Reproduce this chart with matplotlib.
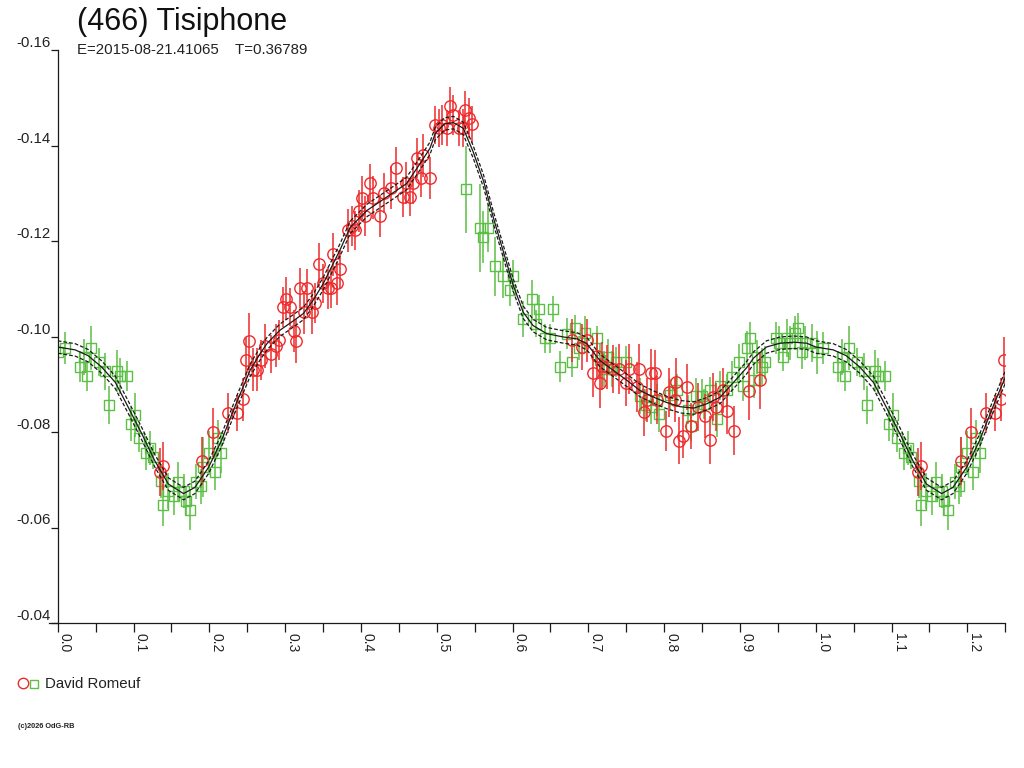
#!/usr/bin/env python3
"""
Courbe de lumiere repliee de (466) Tisiphone, refaite avec matplotlib.
Sortie: out.png (1024x768)
"""

import matplotlib
matplotlib.use("Agg")
import matplotlib.pyplot as plt
from matplotlib.lines import Line2D
from matplotlib.ticker import FormatStrFormatter, MultipleLocator

plt.rcParams["font.family"] = ["Liberation Sans", "DejaVu Sans"]
plt.rcParams["axes.unicode_minus"] = False

# Session 1 (cercles rouges)
red_phase = [
    0.135, 0.139, 0.191, 0.205, 0.224, 0.237, 0.244, 0.248, 0.253, 0.258,
    0.263, 0.268, 0.274, 0.282, 0.288, 0.292, 0.297, 0.301, 0.306, 0.312,
    0.315, 0.320, 0.329, 0.325, 0.336, 0.339, 0.345, 0.350, 0.356, 0.360,
    0.363, 0.368, 0.373, 0.383, 0.388, 0.392, 0.398, 0.402, 0.406, 0.412,
    0.416, 0.425, 0.431, 0.440, 0.446, 0.455, 0.460, 0.465, 0.469, 0.474,
    0.482, 0.479, 0.491, 0.498, 0.507, 0.513, 0.503, 0.518, 0.522, 0.529,
    0.537, 0.542, 0.546, 0.534, 0.679, 0.691, 0.698, 0.706, 0.715, 0.711,
    0.718, 0.724, 0.733, 0.741, 0.750, 0.753, 0.767, 0.782, 0.788, 0.764,
    0.773, 0.778, 0.790, 0.807, 0.816, 0.830, 0.803, 0.820, 0.825, 0.836,
    0.844, 0.854, 0.860, 0.869, 0.883, 0.892, 0.912, 0.926, 0.814, 0.865,
    0.878,
]
red_mag = [
    -0.0717, -0.0729, -0.0740, -0.0799, -0.0840, -0.0840, -0.0869, -0.0950, -0.0990, -0.0930,
    -0.0930, -0.0951, -0.0981, -0.0964, -0.0981, -0.0992, -0.1061, -0.1079, -0.1061, -0.1011,
    -0.0990, -0.1102, -0.1102, -0.1051, -0.1051, -0.1071, -0.1151, -0.1111, -0.1102, -0.1102,
    -0.1172, -0.1111, -0.1141, -0.1222, -0.1231, -0.1222, -0.1262, -0.1291, -0.1252, -0.1322,
    -0.1291, -0.1252, -0.1301, -0.1312, -0.1352, -0.1292, -0.1322, -0.1292, -0.1322, -0.1373,
    -0.1380, -0.1332, -0.1332, -0.1443, -0.1443, -0.1436, -0.1436, -0.1483, -0.1464, -0.1436,
    -0.1474, -0.1457, -0.1444, -0.1436, -0.0992, -0.0978, -0.0992, -0.0923, -0.0902, -0.0960,
    -0.0939, -0.0936, -0.0932, -0.0932, -0.0902, -0.0932, -0.0932, -0.0923, -0.0923, -0.0894,
    -0.0841, -0.0867, -0.0867, -0.0883, -0.0904, -0.0894, -0.0803, -0.0782, -0.0792, -0.0813,
    -0.0852, -0.0834, -0.0783, -0.0852, -0.0843, -0.0803, -0.0885, -0.0908, -0.0867, -0.0873,
    -0.0887,
]
red_err = [
    0.0050, 0.0050, 0.0050, 0.0052, 0.0042, 0.0037, 0.0045, 0.0050, 0.0060, 0.0045,
    0.0045, 0.0042, 0.0046, 0.0040, 0.0045, 0.0042, 0.0042, 0.0045, 0.0040, 0.0044,
    0.0046, 0.0042, 0.0040, 0.0045, 0.0046, 0.0042, 0.0045, 0.0040, 0.0044, 0.0042,
    0.0045, 0.0044, 0.0040, 0.0045, 0.0042, 0.0040, 0.0044, 0.0046, 0.0042, 0.0040,
    0.0045, 0.0044, 0.0042, 0.0046, 0.0045, 0.0042, 0.0044, 0.0040, 0.0045, 0.0042,
    0.0045, 0.0040, 0.0044, 0.0040, 0.0042, 0.0038, 0.0040, 0.0040, 0.0042, 0.0038,
    0.0040, 0.0042, 0.0038, 0.0040, 0.0045, 0.0048, 0.0045, 0.0050, 0.0052, 0.0048,
    0.0050, 0.0046, 0.0050, 0.0052, 0.0048, 0.0053, 0.0053, 0.0050, 0.0048, 0.0052,
    0.0050, 0.0046, 0.0050, 0.0052, 0.0050, 0.0048, 0.0042, 0.0049, 0.0046, 0.0048,
    0.0050, 0.0046, 0.0050, 0.0050, 0.0048, 0.0052, 0.0060, 0.0060, 0.0046, 0.0050,
    0.0048,
]

# Session 2 (carres verts)
green_phase = [
    0.001, 0.010, 0.029, 0.035, 0.039, 0.044, 0.054, 0.063, 0.068, 0.078,
    0.082, 0.091, 0.097, 0.102, 0.107, 0.116, 0.122, 0.126, 0.136, 0.139,
    0.146, 0.153, 0.159, 0.166, 0.169, 0.175, 0.183, 0.189, 0.192, 0.199,
    0.208, 0.212, 0.216, 0.538, 0.557, 0.561, 0.567, 0.577, 0.587, 0.600,
    0.596, 0.614, 0.625, 0.635, 0.654, 0.631, 0.643, 0.650, 0.663, 0.672,
    0.682, 0.678, 0.688, 0.696, 0.711, 0.716, 0.720, 0.726, 0.731, 0.737,
    0.750, 0.768, 0.776, 0.782, 0.790, 0.793, 0.808, 0.817, 0.832, 0.836,
    0.842, 0.850, 0.852, 0.861, 0.870, 0.874, 0.883, 0.889, 0.899, 0.904,
    0.909, 0.913, 0.918, 0.922, 0.929, 0.933, 0.948, 0.952, 0.957, 0.962,
    0.966, 0.972, 0.976, 0.982, 0.986, 0.995,
]
green_mag = [
    -0.0967, -0.0976, -0.0937, -0.0957, -0.0917, -0.0976, -0.0946, -0.0927, -0.0857, -0.0927,
    -0.0917, -0.0917, -0.0817, -0.0836, -0.0787, -0.0756, -0.0767, -0.0747, -0.0698, -0.0647,
    -0.0677, -0.0666, -0.0696, -0.0677, -0.0656, -0.0636, -0.0696, -0.0686, -0.0726, -0.0756,
    -0.0717, -0.0787, -0.0757, -0.1308, -0.1227, -0.1208, -0.1227, -0.1147, -0.1127, -0.1127,
    -0.1098, -0.1037, -0.1078, -0.1058, -0.1058, -0.1027, -0.0996, -0.0996, -0.0937, -0.1006,
    -0.1018, -0.0946, -0.0976, -0.1007, -0.0997, -0.0950, -0.0932, -0.0957, -0.0932, -0.0946,
    -0.0946, -0.0876, -0.0857, -0.0853, -0.0867, -0.0838, -0.0878, -0.0887, -0.0847, -0.0813,
    -0.0876, -0.0876, -0.0859, -0.0887, -0.0827, -0.0897, -0.0887, -0.0916, -0.0946, -0.0896,
    -0.0976, -0.0997, -0.0908, -0.0957, -0.0936, -0.0946, -0.0997, -0.0986, -0.0957, -0.0997,
    -0.0986, -0.1007, -0.1018, -0.0967, -0.0986, -0.0986,
]
green_err = [
    0.0045, 0.0033, 0.0033, 0.0038, 0.0031, 0.0046, 0.0029, 0.0038, 0.0040, 0.0044,
    0.0038, 0.0031, 0.0036, 0.0046, 0.0029, 0.0036, 0.0036, 0.0025, 0.0036, 0.0044,
    0.0038, 0.0040, 0.0042, 0.0036, 0.0031, 0.0042, 0.0036, 0.0036, 0.0063, 0.0046,
    0.0038, 0.0038, 0.0042, 0.0091, 0.0092, 0.0055, 0.0051, 0.0062, 0.0047, 0.0033,
    0.0035, 0.0037, 0.0041, 0.0029, 0.0027, 0.0028, 0.0030, 0.0030, 0.0033, 0.0033,
    0.0026, 0.0030, 0.0026, 0.0035, 0.0026, 0.0037, 0.0038, 0.0037, 0.0038, 0.0031,
    0.0035, 0.0038, 0.0033, 0.0037, 0.0033, 0.0038, 0.0033, 0.0035, 0.0031, 0.0031,
    0.0038, 0.0035, 0.0031, 0.0028, 0.0038, 0.0030, 0.0035, 0.0033, 0.0038, 0.0031,
    0.0035, 0.0033, 0.0037, 0.0035, 0.0040, 0.0035, 0.0033, 0.0035, 0.0030, 0.0040,
    0.0035, 0.0035, 0.0031, 0.0035, 0.0035, 0.0040,
]

# Ajustement de Fourier (trait plein) et sa marge d'erreur
curve_phase = [
    0.000, 0.023, 0.040, 0.058, 0.076, 0.093, 0.111, 0.128, 0.146, 0.166,
    0.181, 0.199, 0.216, 0.235, 0.254, 0.267, 0.276, 0.293, 0.311, 0.324,
    0.337, 0.350, 0.372, 0.386, 0.408, 0.434, 0.460, 0.478, 0.491, 0.498,
    0.510, 0.522, 0.535, 0.548, 0.562, 0.575, 0.588, 0.601, 0.614, 0.627,
    0.645, 0.667, 0.685, 0.698, 0.715, 0.733, 0.751, 0.768, 0.786, 0.803,
    0.821, 0.839, 0.856, 0.874, 0.891, 0.909, 0.918, 0.935, 0.953, 0.971,
    0.988, 1.000,
]
curve_mag = [
    -0.0978, -0.0972, -0.0960, -0.0936, -0.0904, -0.0852, -0.0796, -0.0740, -0.0691, -0.0671,
    -0.0684, -0.0726, -0.0782, -0.0858, -0.0930, -0.0964, -0.0985, -0.1013, -0.1033, -0.1048,
    -0.1076, -0.1110, -0.1180, -0.1229, -0.1264, -0.1292, -0.1320, -0.1362, -0.1394, -0.1425,
    -0.1445, -0.1448, -0.1436, -0.1387, -0.1324, -0.1247, -0.1177, -0.1107, -0.1051, -0.1023,
    -0.1006, -0.0999, -0.0995, -0.0985, -0.0950, -0.0929, -0.0908, -0.0887, -0.0873, -0.0862,
    -0.0853, -0.0850, -0.0859, -0.0873, -0.0903, -0.0935, -0.0955, -0.0978, -0.0986, -0.0988,
    -0.0986, -0.0978,
]
curve_band = 0.0013

titre = "(466) Tisiphone"
sous_titre = "E=2015-08-21.41065    T=0.36789"
observateur = "David Romeuf"
copyright_txt = "(c)2026 OdG-RB"

ROUGE = "#ee2a2a"
VERT = "#5cbf45"
NOIR = "#1a1a1a"


def replier(phase, *colonnes, limite=0.25):
    """Duplique les points de phase < limite a phase + 1 (comme sur l'original)."""
    p = list(phase)
    cols = [list(c) for c in colonnes]
    for i, ph in enumerate(phase):
        if ph < limite:
            p.append(ph + 1.0)
            for c, src in zip(cols, colonnes):
                c.append(src[i])
    return (p, *cols)


def main():
    W, H = 1024, 768
    fig = plt.figure(figsize=(W / 100, H / 100), dpi=100)
    x0, x1 = 57.7, 1005.3
    y0, y1 = 50.0, 623.0
    ax = fig.add_axes([x0 / W, 1 - y1 / H, (x1 - x0) / W, (y1 - y0) / H])

    rp, rm, re = replier(red_phase, red_mag, red_err)
    gp, gm, ge = replier(green_phase, green_mag, green_err)
    cp, cm = replier(curve_phase, curve_mag, limite=0.26)

    ax.errorbar(gp, gm, yerr=ge, fmt="s", ms=6.6, mfc="none", mec=VERT,
                mew=1.0, ecolor=VERT, elinewidth=1.1, capsize=0, zorder=2)
    ax.errorbar(rp, rm, yerr=re, fmt="o", ms=8.2, mfc="none", mec=ROUGE,
                mew=1.0, ecolor=ROUGE, elinewidth=1.1, capsize=0, zorder=3)

    ax.plot(cp, cm, color=NOIR, lw=0.9, zorder=4)
    ax.plot(cp, [m - curve_band for m in cm], color=NOIR, lw=0.9,
            dashes=(3, 1.6), zorder=4)
    ax.plot(cp, [m + curve_band for m in cm], color=NOIR, lw=0.9,
            dashes=(3, 1.6), zorder=4)

    ax.set_xlim(0, 1.25)
    ax.set_ylim(-0.04, -0.16)

    for s in ("top", "right"):
        ax.spines[s].set_visible(False)
    for s in ("left", "bottom"):
        ax.spines[s].set_linewidth(0.9)
        ax.spines[s].set_color(NOIR)
    ax.spines["bottom"].set_bounds(-0.012, 1.25)

    ax.xaxis.set_major_locator(MultipleLocator(0.1))
    ax.xaxis.set_minor_locator(MultipleLocator(0.05))
    ax.xaxis.set_major_formatter(FormatStrFormatter("%.1f"))
    ax.tick_params(axis="x", which="both", direction="out", length=6.5,
                   width=0.9, color=NOIR, pad=1, labelsize=10, labelcolor="#222")
    for lab in ax.get_xticklabels():
        lab.set_rotation(-90)
        lab.set_ha("left")
        lab.set_va("top")

    ax.yaxis.set_major_locator(MultipleLocator(0.02))
    ax.yaxis.set_major_formatter(FormatStrFormatter("%.2f"))
    ax.tick_params(axis="y", direction="out", length=5, width=0.9,
                   color=NOIR, pad=0, labelsize=10.8, labelcolor="#222")
    for lab in ax.get_yticklabels():
        lab.set_va("bottom")

    fig.text(77 / W, 1 - 30 / H, titre, fontsize=22, va="baseline", color="#111")
    fig.text(77 / W, 1 - 54 / H, sous_titre, fontsize=10.8, va="baseline", color="#222")

    # legende
    fig.add_artist(Line2D([22.5 / W], [1 - 683 / H], marker="o", ms=7.5,
                          mfc="none", mec=ROUGE, mew=1.0, transform=fig.transFigure))
    fig.add_artist(Line2D([34 / W], [1 - 683.5 / H], marker="s", ms=5.8,
                          mfc="none", mec=VERT, mew=1.0, transform=fig.transFigure))
    fig.text(45 / W, 1 - 688 / H, observateur, fontsize=10.8, va="baseline", color="#222")
    fig.text(18 / W, 1 - 728 / H, copyright_txt, fontsize=5.3, weight="bold",
             va="baseline", color="#222")

    fig.savefig("out.png", dpi=100)


if __name__ == "__main__":
    main()
